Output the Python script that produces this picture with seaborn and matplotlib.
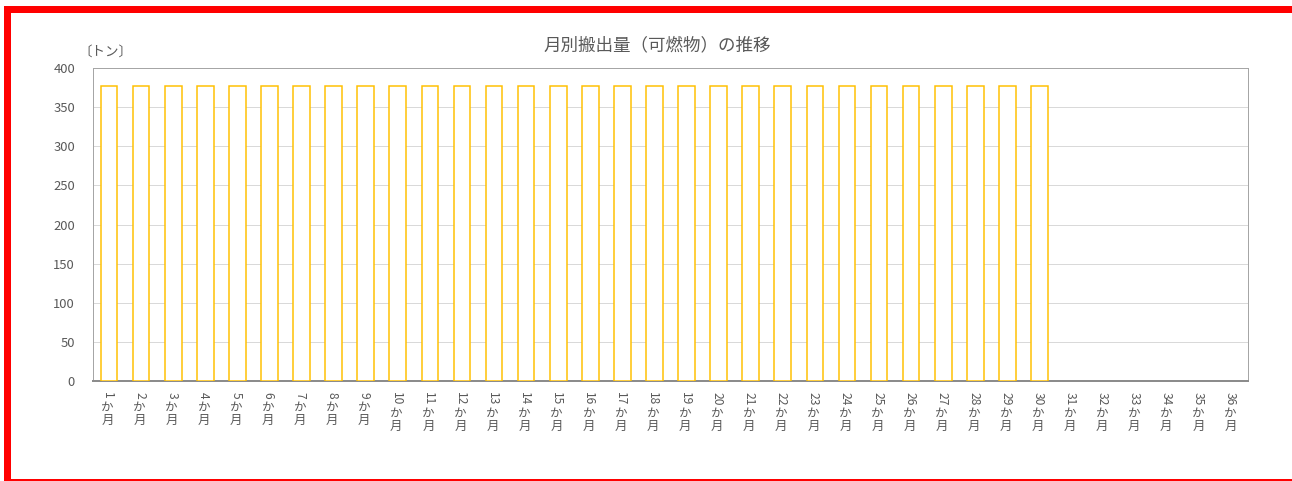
import matplotlib
matplotlib.use("Agg")
import matplotlib.pyplot as plt
from matplotlib.patches import Rectangle
import numpy as np
import pandas as pd
import seaborn as sns

# Monthly shipment volume of combustible waste (tonnes)
months = list(range(1, 37))
month_labels = [f"{m}か月" for m in months]
volumes = [377] * 30 + [np.nan] * 6
y_ticks = [0, 50, 100, 150, 200, 250, 300, 350, 400]

title = "月別搬出量（可燃物）の推移"
unit_label = "〔トン〕"

sns.set_theme(style="white")
plt.rcParams["font.family"] = ["Noto Sans CJK JP", "DejaVu Sans"]

W, H, DPI = 1292, 481, 72
fig = plt.figure(figsize=(W / DPI, H / DPI), dpi=DPI, facecolor="white")

ax_left, ax_right, ax_top, ax_bottom = 93, 1248, 68, 381
ax = fig.add_axes([ax_left / W, 1 - ax_bottom / H,
                   (ax_right - ax_left) / W, (ax_bottom - ax_top) / H])

df = pd.DataFrame({"month": month_labels, "volume": volumes})
sns.barplot(data=df, x="month", y="volume", order=month_labels, ax=ax,
            color="white", edgecolor="#FFC000", linewidth=1.5, width=0.52,
            errorbar=None, zorder=3)

text_color = "#595959"
ax.set_ylim(0, 400)
ax.set_yticks(y_ticks)
ax.set_yticklabels([str(v) for v in y_ticks], fontsize=13, color=text_color)
ax.tick_params(axis="y", length=0, pad=18)
ax.grid(axis="y", color="#D9D9D9", linewidth=1, zorder=0)
ax.set_axisbelow(True)
ax.set_xlim(-0.5, len(months) - 0.5)
ax.set_xticks(range(len(months)))
ax.set_xticklabels([])
ax.tick_params(axis="x", length=0)
ax.set_xlabel("")
ax.set_ylabel("")

for side in ["top", "right", "left"]:
    ax.spines[side].set_color("#A6A6A6")
    ax.spines[side].set_linewidth(1)
ax.spines["bottom"].set_color("#8C8C8C")
ax.spines["bottom"].set_linewidth(2)

# Category labels: digits turned sideways, kana/kanji stacked upright
digit_px = 6.6
for i, m in enumerate(months):
    num = str(m)
    ax.annotate(num, xy=(i, 0), xycoords=("data", "axes fraction"),
                xytext=(-1.5, -11), textcoords="offset points",
                rotation=270, ha="center", va="top",
                fontsize=12, color=text_color)
    ax.annotate("か\n月", xy=(i, 0), xycoords=("data", "axes fraction"),
                xytext=(-1.5, -11 - len(num) * digit_px - 2), textcoords="offset points",
                ha="center", va="top", fontsize=12.5, linespacing=1.0,
                color=text_color)

fig.text(657 / W, 1 - 45 / H, title, ha="center", va="center",
         fontsize=17.5, color=text_color)
fig.text(78 / W, 1 - 52 / H, unit_label, ha="left", va="center",
         fontsize=13.5, color=text_color)

# Red frame around the chart
fig.add_artist(Rectangle((6.5 / W, -0.5 / H), (W + 20) / W, (H - 8.5) / H,
                         transform=fig.transFigure, fill=False,
                         edgecolor="#FF0000", linewidth=7, clip_on=False))

fig.savefig("out.png", dpi=DPI, facecolor="white")
